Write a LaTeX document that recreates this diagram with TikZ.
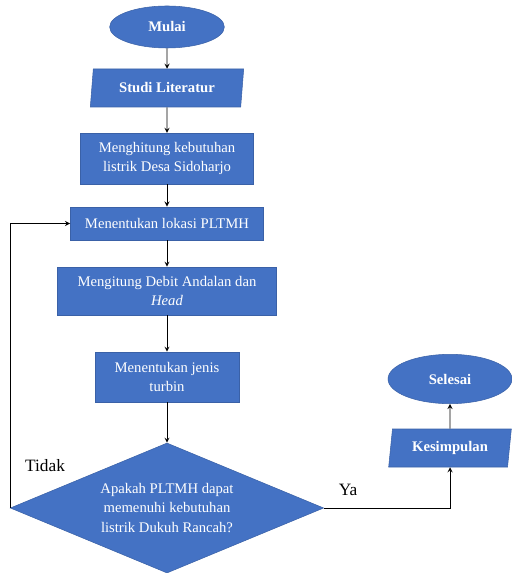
\documentclass[tikz,border=0pt]{standalone}
\usepackage{fontspec}
\setmainfont{Liberation Serif}
\usetikzlibrary{shapes.geometric}
\definecolor{flowblue}{HTML}{4472C4}
\begin{document}
\begin{tikzpicture}
[x=0.75pt,y=-0.75pt,
  boxdecorate/.style={shape=rectangle,draw=flowblue!85!black,fill=flowblue,text=white,
    align=center,inner sep=2pt,font=\fontsize{11}{14.5}\selectfont},%
  terminaldecorate/.style={shape=ellipse,draw=flowblue!85!black,fill=flowblue,text=white,
    inner sep=0pt,font=\fontsize{11}{14}\selectfont\bfseries},%
  iodecorate/.style={shape=trapezium,trapezium left angle=74,trapezium right angle=106,
    trapezium stretches body,draw=flowblue!85!black,fill=flowblue,text=white,
    inner sep=0pt,minimum height=28.5pt,font=\fontsize{11}{14}\selectfont\bfseries},%
  decisiondecorate/.style={shape=diamond,aspect=2.4,draw=flowblue!85!black,fill=flowblue,
    text=white,align=center,inner sep=0pt,font=\fontsize{11}{14.5}\selectfont},%
  labeldecorate/.style={font=\fontsize{13}{15}\selectfont},%
  arrowdecorate/.style={->,>=stealth,line width=0.7pt}]
\useasboundingbox (0,0) rectangle (511,573);
%% terminals and input/output
\node (mulai) at (167,27) [terminaldecorate,minimum width=86pt,minimum height=31.5pt] {Mulai};
\node (studi) at (167,88) [iodecorate,minimum width=115pt] {Studi Literatur};
\node (kesimpulan) at (450,448) [iodecorate,minimum width=92pt] {Kesimpulan};
\node (selesai) at (450,379) [terminaldecorate,minimum width=93pt,minimum height=37pt] {Selesai};
%% process boxes
\foreach \nodename/\x/\y/\w/\h/\txt in {
  hitung/167/158.5/130/38/{Menghitung kebutuhan\\listrik Desa Sidoharjo},
  lokasi/167/223.5/145/25/{Menentukan lokasi PLTMH},
  debit/167/291/164/36/{Mengitung Debit Andalan dan\\\textit{Head}},
  turbin/167/377/108/37.5/{Menentukan jenis\\turbin}} {
  \node (\nodename) at (\x,\y) [boxdecorate,minimum width=\w pt,minimum height=\h pt] {\txt};
}
%% decision
\node (keputusan) at (167,508) [decisiondecorate,minimum width=235pt,minimum height=97.5pt]
  {Apakah PLTMH dapat\\memenuhi kebutuhan\\listrik Dukuh Rancah?};
\node (tidak) at (45,466) [labeldecorate] {Tidak};
\node (ya) at (348,490) [labeldecorate] {Ya};
%% edges or lines
\path
\foreach \startnode/\endnode in {mulai/studi, studi/hitung, hitung/lokasi,
  lokasi/debit, debit/turbin, turbin/keputusan, kesimpulan/selesai} {
  (\startnode) edge[arrowdecorate] (\endnode)
};
\draw[arrowdecorate] (keputusan.west) |- (lokasi.west);
\draw[arrowdecorate] (keputusan.east) -| (kesimpulan.south);
\end{tikzpicture}
\end{document}
